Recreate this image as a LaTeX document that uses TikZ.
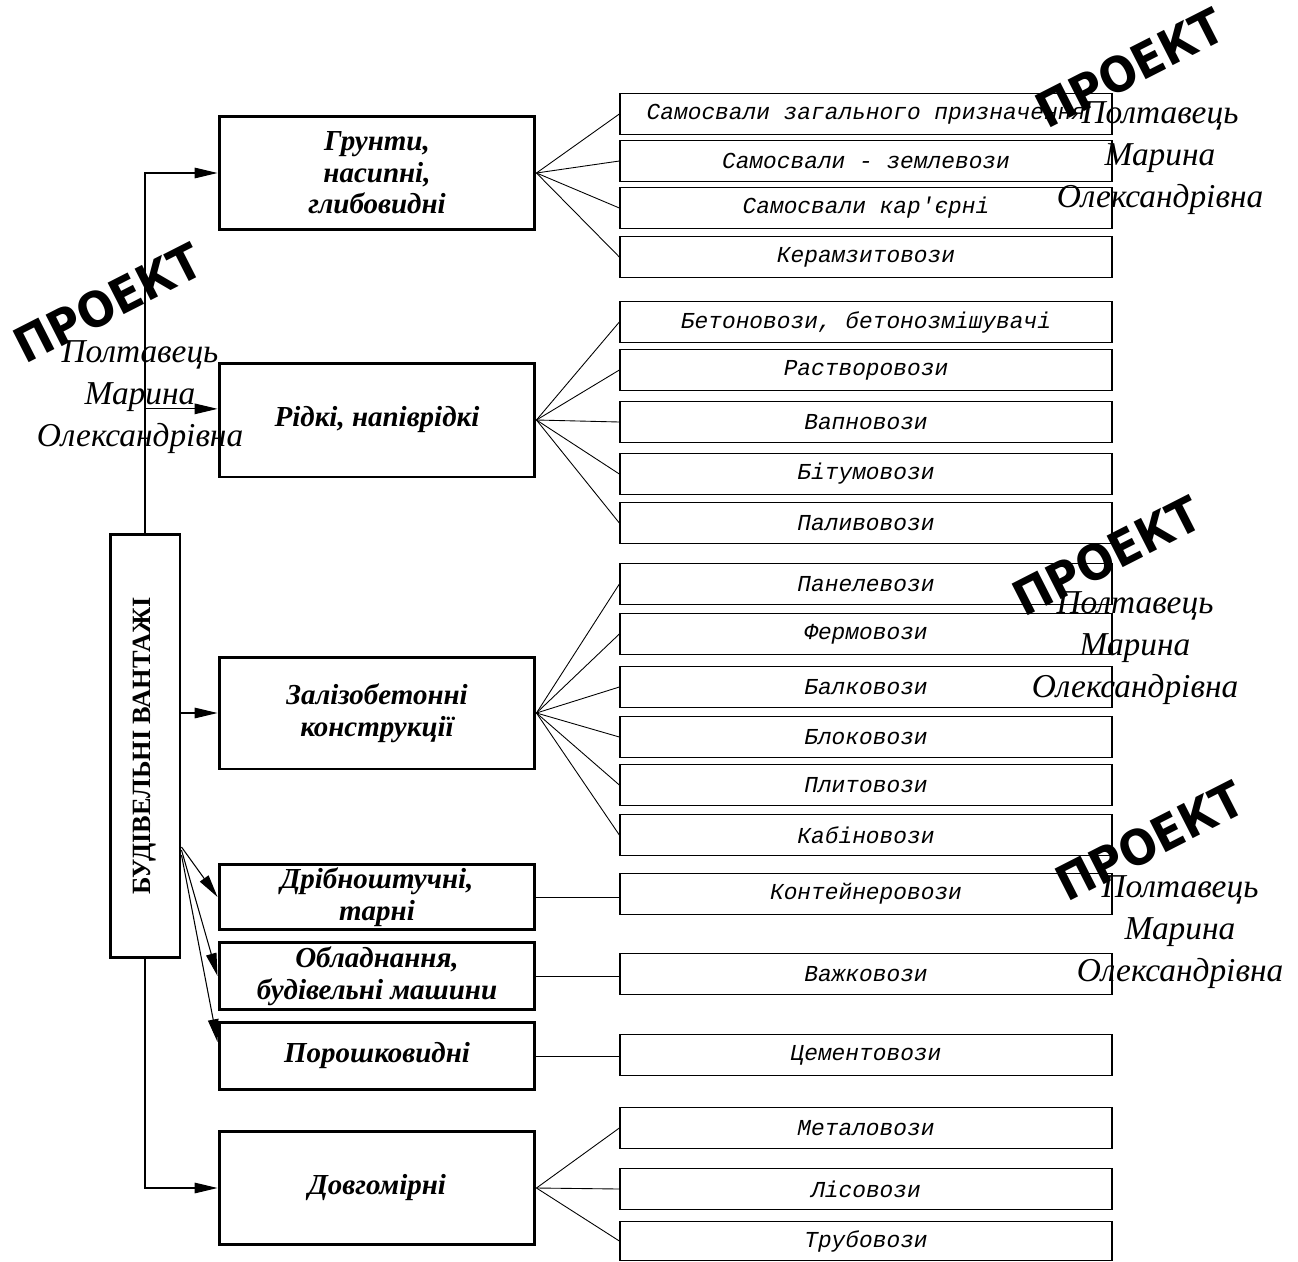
\documentclass[tikz,border=0pt]{standalone}
\usepackage{fontspec}
\setmainfont{Liberation Serif}
\newfontfamily\kindfont{Liberation Mono}
\newfontfamily\stampfont{DejaVu Sans}
\usepackage{tikz}
\usetikzlibrary{arrows.meta,calc}
\tikzset{root/.style = {shape = rectangle, draw, line width = 1.7pt, fill = white, minimum width = 1.4cm, minimum height = 8.46cm, inner sep = 0pt, font = \bfseries\fontsize{15}{17}\selectfont}}
\tikzset{group/.style = {shape = rectangle, draw, line width = 1.7pt, fill = white, minimum width = 6.32cm, align = center, inner sep = 0pt, font = \bfseries\itshape\fontsize{16.5}{18}\selectfont}}
\tikzset{kind/.style = {shape = rectangle, draw, line width = 0.8pt, minimum width = 9.84cm, minimum height = 0.82cm, inner sep = 0pt, font = \kindfont\itshape\fontsize{13}{15}\selectfont}}
\tikzset{edge/.style = {line width = 0.6pt, -{Triangle[length = 13pt, width = 6pt]}}}
\tikzset{fan/.style = {line width = 0.5pt}}
\tikzset{stamp/.style = {rotate = 27, inner sep = 0pt, font = \stampfont\bfseries\fontsize{24}{26}\selectfont}}
\tikzset{owner/.style = {align = center, font = \itshape\fontsize{19}{24}\selectfont}}
\newcommand{\stamptext}{\scalebox{1.05}[1.15]{ПРОЕКТ}}

\begin{document}
\begin{tikzpicture}[x = 0.02cm, y = -0.02cm]
			\useasboundingbox (0, 0) rectangle (1298, 1261);

			\node[root] (main) at (145, 746) {\rotatebox{90}{БУДІВЕЛЬНІ ВАНТАЖІ}};

			\node[group, minimum height = 2.28cm] (g1) at (377, 173) {Грунти,\\насипні,\\глибовидні};
			\node[group, minimum height = 2.28cm] (g2) at (377, 420) {Рідкі, напіврідкі};
			\node[group, minimum height = 2.24cm] (g3) at (377, 713) {Залізобетонні\\конструкції};
			\node[group, minimum height = 1.3cm] (g4) at (377, 897) {Дрібноштучні,\\тарні};
			\node[group, minimum height = 1.34cm] (g5) at (377, 976) {Обладнання,\\будівельні машини};
			\node[group, minimum height = 1.34cm] (g6) at (377, 1056) {Порошковидні};
			\node[group, minimum height = 2.26cm] (g7) at (377, 1188) {Довгомірні};

			\node[kind] (k11) at (866, 114) {Самосвали загального призначення};
			\node[kind] (k12) at (866, 161) {Самосвали - землевози};
			\node[kind] (k13) at (866, 208) {Самосвали кар'єрні};
			\node[kind] (k14) at (866, 257) {Керамзитовози};

			\node[kind] (k21) at (866, 322) {Бетоновози, бетонозмішувачі};
			\node[kind] (k22) at (866, 370) {Растворовози};
			\node[kind] (k23) at (866, 422) {Вапновози};
			\node[kind] (k24) at (866, 474) {Бітумовози};
			\node[kind] (k25) at (866, 523) {Паливовози};

			\node[kind] (k31) at (866, 584) {Панелевози};
			\node[kind] (k32) at (866, 634) {Фермовози};
			\node[kind] (k33) at (866, 687) {Балковози};
			\node[kind] (k34) at (866, 737) {Блоковози};
			\node[kind] (k35) at (866, 785) {Плитовози};
			\node[kind] (k36) at (866, 835) {Кабіновози};

			\node[kind] (k4) at (866, 894) {Контейнеровози};
			\node[kind] (k5) at (866, 974) {Важковози};
			\node[kind] (k6) at (866, 1055) {Цементовози};

			\node[kind] (k71) at (866, 1128) {Металовози};
			\node[kind] (k72) at (866, 1189) {Лісовози};
			\node[kind, minimum height = 0.78cm] (k73) at (866, 1241) {Трубовози};

			% from the root box
			\draw[edge] (main.north) |- (g1.west);
			\draw[edge] (main.north) |- (g2.176);
			\draw[edge] (main.east |- g3.west) -- (g3.west);
			\draw[edge] ($(main.east) + (0, 101)$) -- (g4.west);
			\draw[edge] ($(main.east) + (0, 104)$) -- (g5.west);
			\draw[edge] ($(main.east) + (0, 109)$) -- (g6.175);
			\draw[edge] (main.south) |- (g7.west);

			% to the vehicles
			\draw[fan] (g1.east) -- (k11.west);
			\draw[fan] (g1.east) -- (k12.west);
			\draw[fan] (g1.east) -- (k13.west);
			\draw[fan] (g1.east) -- (k14.west);
			\draw[fan] (g2.east) -- (k21.west);
			\draw[fan] (g2.east) -- (k22.west);
			\draw[fan] (g2.east) -- (k23.west);
			\draw[fan] (g2.east) -- (k24.west);
			\draw[fan] (g2.east) -- (k25.west);
			\draw[fan] (g3.east) -- (k31.west);
			\draw[fan] (g3.east) -- (k32.west);
			\draw[fan] (g3.east) -- (k33.west);
			\draw[fan] (g3.east) -- (k34.west);
			\draw[fan] (g3.east) -- (k35.west);
			\draw[fan] (g3.east) -- (k36.west);
			\draw[fan] (g4.east) -- (g4.east -| k4.west);
			\draw[fan] (g5.east) -- (g5.east -| k5.west);
			\draw[fan] (g6.east) -- (g6.east -| k6.west);
			\draw[fan] (g7.east) -- (k71.west);
			\draw[fan] (g7.east) -- (k72.west);
			\draw[fan] (g7.east) -- (k73.west);

			% watermarks
			\node[stamp] (s1) at (1130, 68) {\stamptext};
			\node[owner] (o1) at (1160, 158) {Полтавець\\Марина\\Олександрівна};
			\node[stamp] (s2) at (108, 303) {\stamptext};
			\node[owner] (o2) at (140, 397) {Полтавець\\Марина\\Олександрівна};
			\node[stamp] (s3) at (1107, 556) {\stamptext};
			\node[owner] (o3) at (1135, 648) {Полтавець\\Марина\\Олександрівна};
			\node[stamp] (s4) at (1150, 841) {\stamptext};
			\node[owner] (o4) at (1180, 932) {Полтавець\\Марина\\Олександрівна};
		\end{tikzpicture}
\end{document}
